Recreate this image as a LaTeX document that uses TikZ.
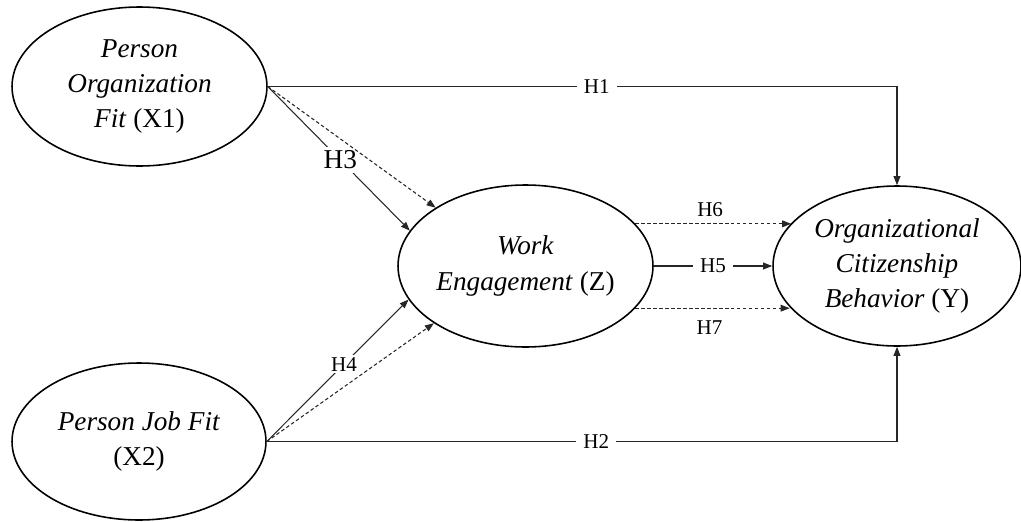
\documentclass[tikz,border=0pt]{standalone}
\usepackage{fontspec}
\setmainfont{Liberation Serif}
\usetikzlibrary{arrows.meta,shapes.geometric}

\begin{document}
\begin{tikzpicture}[x=0.02cm,y=-0.02cm,
  var/.style={ellipse, draw, line width=0.9pt, inner sep=0pt, align=center,
    font=\fontsize{15.5}{20}\selectfont},
  link/.style={line width=0.6pt, draw=black!85, -{Triangle[length=1.8mm,width=1.35mm]}},
  dlink/.style={link, dash pattern=on 2pt off 1.4pt},
  hlab/.style={fill=white, inner xsep=4pt, inner ysep=1pt, font=\fontsize{12}{14}\selectfont},
  hbig/.style={fill=white, inner sep=2pt, font=\fontsize{15.5}{18}\selectfont},
  hfree/.style={inner sep=3pt, font=\fontsize{12}{14}\selectfont}]

\useasboundingbox (0,0) rectangle (1021,521);

% latent variables
\node[var, minimum width=5.1cm, minimum height=3.18cm] (X1) at (139.5,86.5)
  {\textit{Person}\\\textit{Organization}\\\textit{Fit} (X1)};
\node[var, minimum width=5.08cm, minimum height=3.14cm] (X2) at (139,441.5)
  {\textit{Person Job Fit}\\(X2)};
\node[var, minimum width=5.1cm, minimum height=3.24cm] (Z) at (525.5,266)
  {\textit{Work}\\\textit{Engagement} (Z)};
\node[var, minimum width=4.96cm, minimum height=3.2cm] (Y) at (897,266)
  {\textit{Organizational}\\\textit{Citizenship}\\\textit{Behavior} (Y)};

% direct effects
\draw[link] (X1.east) -- node[hlab, pos=0.523] {H1} (X1.east -| Y.north) -- (Y.north);
\draw[link] (X2.east) -- node[hlab, pos=0.523] {H2} (X2.east -| Y.south) -- (Y.south);
\draw[link] (X1.east) -- node[hbig, pos=0.51] {H3} (Z.163);
\draw[link] (X2.east) -- node[hlab, inner xsep=2pt, pos=0.545] {H4} (Z.196);
\draw[link] (Z.east) -- node[hlab] {H5} (Y.west);

% mediated effects
\draw[dlink] (X1.east) -- (Z.147);
\draw[dlink] (X2.east) -- (Z.212.5);
\draw[dlink] (Z.21) -- node[hfree, above, pos=0.48, yshift=1pt] {H6} (Z.21 -| Y.158.5);
\draw[dlink] (Z.-21) -- node[hfree, below, pos=0.48, yshift=-4pt] {H7} (Z.-21 -| Y.201.5);

\end{tikzpicture}
\end{document}
